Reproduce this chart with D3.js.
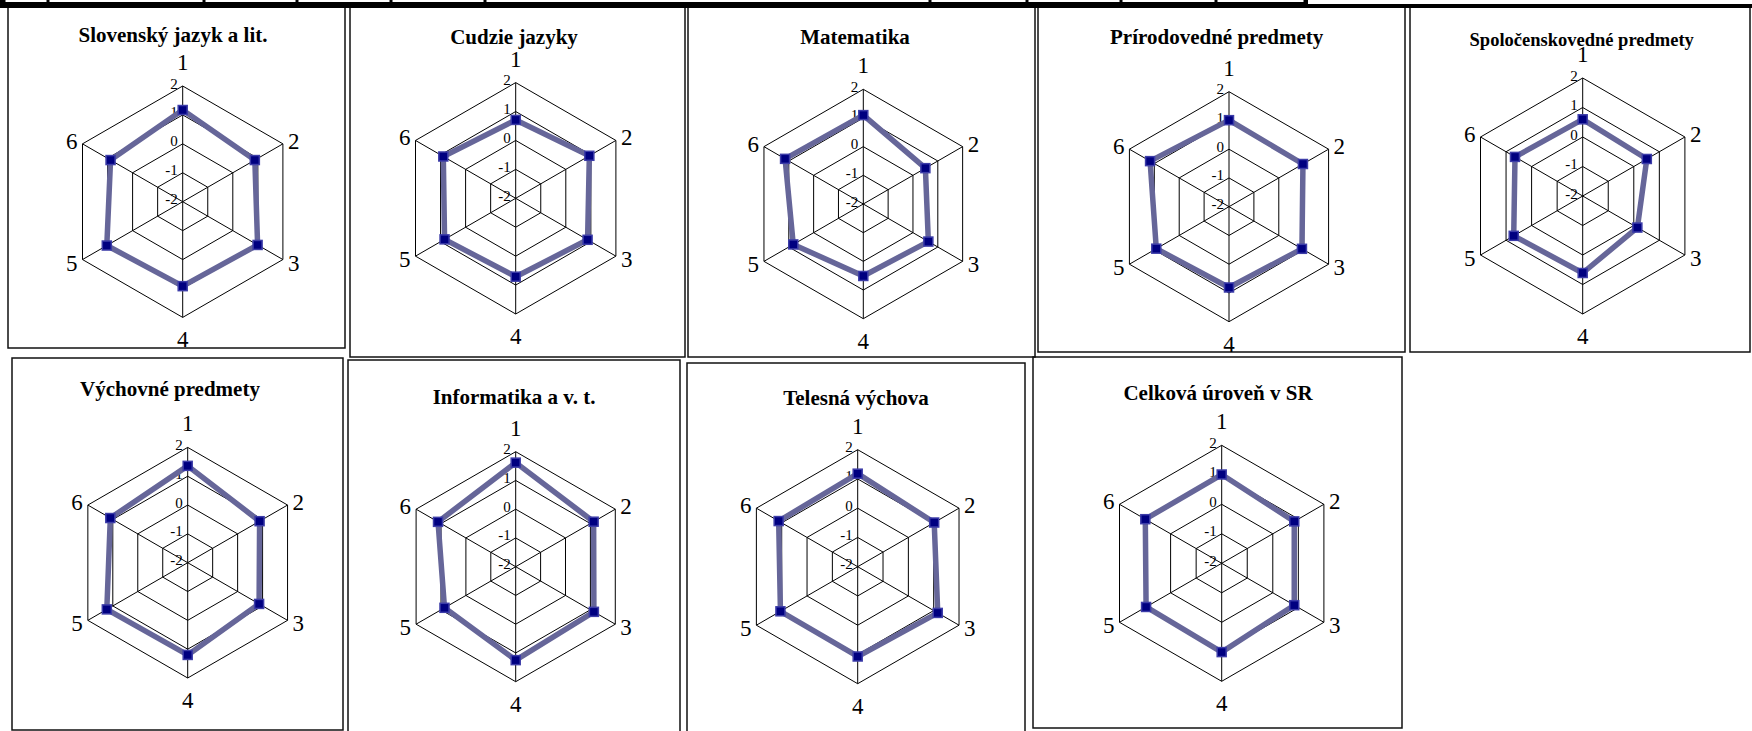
<!DOCTYPE html>
<html>
<head>
<meta charset="utf-8">
<script src="https://cdn.jsdelivr.net/npm/d3@7"></script>
<style>
  body { margin: 0; background: #fff; }
  svg { display: block; }
</style>
</head>
<body>
<script>
// axis names (clockwise from the top) and the radial tick values
const axisNames = ["1", "2", "3", "4", "5", "6"];
const tickValues = [-2, -1, 0, 1, 2];

const titles = [
  "Slovenský jazyk a lit.",
  "Cudzie jazyky",
  "Matematika",
  "Prírodovedné predmety",
  "Spoločenskovedné predmety",
  "Výchovné predmety",
  "Informatika a v. t.",
  "Telesná výchova",
  "Celková úroveň v SR"
];

// values, one array per subject
const slovencina = [1.17, 0.88, 0.99, 0.92, 1.03, 0.88];
const cudzieJazyky = [0.71, 0.94, 0.87, 0.71, 0.84, 0.89];
const matematika = [1.10, 0.50, 0.62, 0.51, 0.82, 1.15];
const prirodovedne = [1.01, 0.97, 0.93, 0.81, 0.92, 1.17];
const spolocenskovedne = [0.60, 0.51, 0.14, 0.61, 0.70, 0.65];
const vychovne = [1.36, 0.88, 0.86, 1.20, 1.24, 1.10];
const informatika = [1.62, 1.13, 1.14, 1.25, 0.86, 1.12];
const telesna = [1.18, 1.02, 1.16, 1.07, 1.05, 1.12];
const celkova = [1.01, 0.84, 0.84, 1.01, 0.96, 0.99];

const series = [slovencina, cudzieJazyky, matematika, prirodovedne,
  spolocenskovedne, vychovne, informatika, telesna, celkova];

// panel layout: box, radar centre, radius, title position
const layout = [
  { box: [8, 7, 337, 341], cx: 182.7, cy: 201.7, r: 115.7, tx: 173, ty: 42, fs: 21 },
  { box: [350, 7, 335, 350], cx: 515.7, cy: 198.3, r: 115.7, tx: 514, ty: 43.5, fs: 21 },
  { box: [688, 7, 347, 350], cx: 863.3, cy: 204, r: 114.7, tx: 855, ty: 44, fs: 21 },
  { box: [1038, 7, 367, 345], cx: 1229, cy: 206.7, r: 115, tx: 1216.7, ty: 44, fs: 21 },
  { box: [1410, 7, 340, 345], cx: 1582.7, cy: 196, r: 118, tx: 1581.7, ty: 46, fs: 18.5 },
  { box: [12, 358, 331, 372], cx: 187.7, cy: 562.7, r: 115.3, tx: 170, ty: 396, fs: 21 },
  { box: [348, 360, 332, 375], cx: 515.7, cy: 566.7, r: 115, tx: 514, ty: 403.5, fs: 21 },
  { box: [687, 363, 338, 372], cx: 857.7, cy: 566.7, r: 117, tx: 856, ty: 405, fs: 21 },
  { box: [1033, 357, 369, 371], cx: 1221.7, cy: 563.3, r: 118, tx: 1218, ty: 399.5, fs: 21 }
];

const width = 1752, height = 731;
const serif = "'Liberation Serif', 'Times New Roman', serif";

const svg = d3.select("body").append("svg")
  .attr("width", width)
  .attr("height", height);

// thick black strip at the top (bottom of a table above)
const strip = svg.append("g");
strip.append("rect").attr("x", 0).attr("y", 0).attr("width", 1308).attr("height", 8).attr("fill", "#000");
strip.append("rect").attr("x", 1308).attr("y", 4).attr("width", width - 1308).attr("height", 4).attr("fill", "#000");
const cellEdges = [4, 48, 204, 297, 391, 485, 930, 1027, 1121, 1216, 1305];
strip.selectAll(".gap")
  .data(d3.pairs(cellEdges))
  .enter()
  .append("rect")
  .attr("x", d => d[0] + 1.5)
  .attr("y", 0)
  .attr("width", d => d[1] - d[0] - 3)
  .attr("height", 2)
  .attr("fill", "#fff");

const angle = d3.scaleLinear().domain([0, axisNames.length]).range([0, 2 * Math.PI]);

series.forEach(function (values, k) {
  const L = layout[k];
  const rScale = d3.scaleLinear().domain([-2, 2]).range([0, L.r]);
  const g = svg.append("g").attr("transform", "translate(" + L.cx + "," + L.cy + ")");

  // panel frame
  svg.insert("rect", "g")
    .attr("x", L.box[0]).attr("y", L.box[1])
    .attr("width", L.box[2]).attr("height", L.box[3])
    .attr("fill", "none")
    .attr("stroke", "#111")
    .attr("stroke-width", 1.5);

  // title
  svg.append("text")
    .attr("x", L.tx).attr("y", L.ty)
    .attr("text-anchor", "middle")
    .style("font-family", serif)
    .style("font-weight", "bold")
    .style("font-size", L.fs + "px")
    .text(titles[k]);

  // hexagon rings
  const ring = d3.lineRadial()
    .angle((d, i) => angle(i))
    .radius(d => d)
    .curve(d3.curveLinearClosed);
  g.selectAll(".ring")
    .data(tickValues.slice(1))
    .enter()
    .append("path")
    .attr("d", t => ring(axisNames.map(() => rScale(t))))
    .attr("fill", "none")
    .attr("stroke", "#000")
    .attr("stroke-width", 1);

  // spokes
  g.selectAll(".spoke")
    .data(axisNames)
    .enter()
    .append("line")
    .attr("x1", 0).attr("y1", 0)
    .attr("x2", (d, i) => d3.pointRadial(angle(i), rScale(2))[0])
    .attr("y2", (d, i) => d3.pointRadial(angle(i), rScale(2))[1])
    .attr("stroke", "#000")
    .attr("stroke-width", 1);

  // tick labels on the top spoke
  g.selectAll(".tick")
    .data(tickValues)
    .enter()
    .append("text")
    .attr("x", -5)
    .attr("y", t => -rScale(t) + 2.5)
    .attr("text-anchor", "end")
    .style("font-family", serif)
    .style("font-size", "15px")
    .text(t => t);

  // axis names outside the vertices
  g.selectAll(".axisname")
    .data(axisNames)
    .enter()
    .append("text")
    .attr("x", function (d, i) {
      const p = d3.pointRadial(angle(i), rScale(2));
      if (i === 0 || i === 3) return p[0];
      return i < 3 ? p[0] + 5 : p[0] - 5;
    })
    .attr("y", function (d, i) {
      const p = d3.pointRadial(angle(i), rScale(2));
      if (i === 0) return p[1] - 16;
      if (i === 3) return p[1] + 30;
      return (i === 1 || i === 5) ? p[1] + 5 : p[1] + 11;
    })
    .attr("text-anchor", (d, i) => (i === 0 || i === 3) ? "middle" : (i < 3 ? "start" : "end"))
    .style("font-family", serif)
    .style("font-size", "23px")
    .text(d => d);

  // data polygon
  const line = d3.lineRadial()
    .angle((d, i) => angle(i))
    .radius(d => rScale(d))
    .curve(d3.curveLinearClosed);
  g.append("path")
    .attr("d", line(values))
    .attr("fill", "none")
    .attr("stroke", "#666699")
    .attr("stroke-width", 5.5)
    .attr("stroke-linejoin", "round");

  // square markers
  const s = 9;
  g.selectAll(".marker")
    .data(values)
    .enter()
    .append("rect")
    .attr("x", (d, i) => d3.pointRadial(angle(i), rScale(d))[0] - s / 2)
    .attr("y", (d, i) => d3.pointRadial(angle(i), rScale(d))[1] - s / 2)
    .attr("width", s)
    .attr("height", s)
    .attr("fill", "#000080")
    .attr("stroke", "#3c3ca8")
    .attr("stroke-width", 1.5);
});
</script>
</body>
</html>
